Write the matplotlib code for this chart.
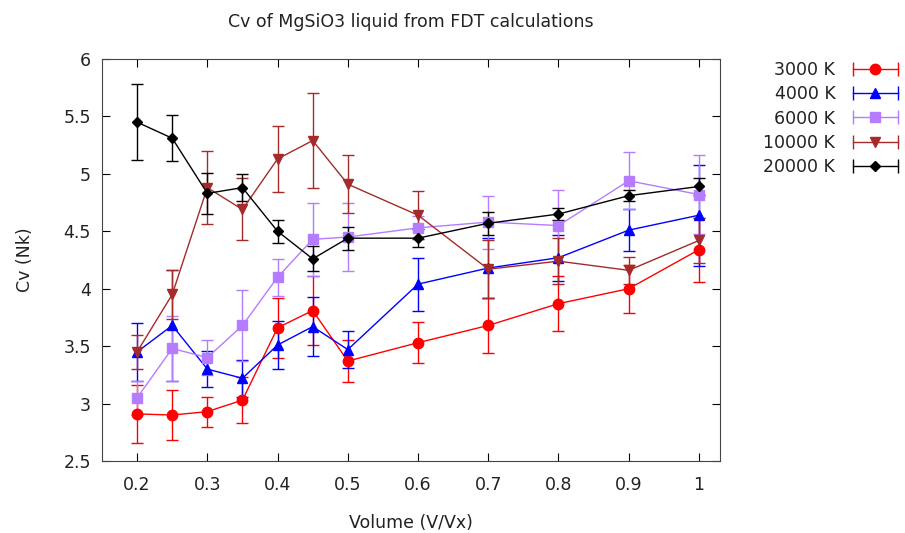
import numpy as np
import matplotlib
matplotlib.use("Agg")
import matplotlib.pyplot as plt
from matplotlib.lines import Line2D
from matplotlib.legend_handler import HandlerLine2D, HandlerTuple

volume = [0.2, 0.25, 0.3, 0.35, 0.4, 0.45, 0.5, 0.6, 0.7, 0.8, 0.9, 1.0]

cv_3000 = [2.91, 2.90, 2.93, 3.03, 3.66, 3.81, 3.37, 3.53, 3.68, 3.87, 4.00, 4.34]
err_3000 = [0.25, 0.22, 0.13, 0.20, 0.26, 0.30, 0.18, 0.18, 0.24, 0.24, 0.21, 0.28]

cv_4000 = [3.45, 3.68, 3.30, 3.22, 3.51, 3.67, 3.47, 4.04, 4.18, 4.27, 4.51, 4.64]
err_4000 = [0.25, 0.48, 0.16, 0.16, 0.21, 0.26, 0.16, 0.23, 0.26, 0.20, 0.18, 0.44]

cv_6000 = [3.05, 3.48, 3.40, 3.68, 4.10, 4.43, 4.45, 4.53, 4.58, 4.55, 4.94, 4.82]
err_6000 = [0.15, 0.28, 0.15, 0.31, 0.16, 0.32, 0.30, 0.10, 0.23, 0.31, 0.25, 0.34]

cv_10000 = [3.45, 3.95, 4.88, 4.69, 5.13, 5.29, 4.91, 4.64, 4.17, 4.24, 4.16, 4.42]
err_10000 = [0.15, 0.21, 0.32, 0.27, 0.29, 0.41, 0.25, 0.21, 0.25, 0.20, 0.12, 0.20]

cv_20000 = [5.45, 5.31, 4.83, 4.88, 4.50, 4.26, 4.44, 4.44, 4.57, 4.65, 4.81, 4.89]
err_20000 = [0.33, 0.20, 0.18, 0.12, 0.10, 0.11, 0.10, 0.08, 0.10, 0.05, 0.05, 0.07]

labels = ["3000 K", "4000 K", "6000 K", "10000 K", "20000 K"]

FS = 12.5
TXT = '#222222'

fig = plt.figure(figsize=(9.05, 5.33), dpi=100)
ax = fig.add_axes([0.1127, 0.1351, 0.6829, 0.7542])

series = [
    (cv_3000, err_3000, '#ff0000', 'o', 7.5),
    (cv_4000, err_4000, '#0000ff', '^', 7),
    (cv_6000, err_6000, '#b57cff', 's', 6.5),
    (cv_10000, err_10000, '#a52a2a', 'v', 7),
    (cv_20000, err_20000, '#000000', 'D', 5),
]

handles = []
hmap = {}
for (vals, errs, col, mk, ms), lab in zip(series, labels):
    ax.errorbar(volume, vals, yerr=errs, color=col, marker=mk, markersize=ms,
                linewidth=1.0, elinewidth=1.0, capsize=4.5, capthick=1.0)
    # legend sample: horizontal error bar with end caps, marker in the middle
    caps = Line2D([], [], color=col, linewidth=1.0, marker='|', markersize=10,
                  markeredgewidth=1.0)
    mark = Line2D([], [], color=col, linestyle='none', marker=mk, markersize=ms)
    hmap[caps] = HandlerLine2D(numpoints=2)
    hmap[mark] = HandlerLine2D(numpoints=1)
    handles.append((caps, mark))
hmap[tuple] = HandlerTuple(ndivide=1, pad=0)

ax.set_xlim(0.15, 1.03)
ax.set_ylim(2.5, 6)
ax.set_xticks([0.2, 0.3, 0.4, 0.5, 0.6, 0.7, 0.8, 0.9, 1.0])
ax.set_xticklabels(["0.2", "0.3", "0.4", "0.5", "0.6", "0.7", "0.8", "0.9", "1"])
ax.set_yticks([2.5, 3, 3.5, 4, 4.5, 5, 5.5, 6])
ax.set_yticklabels(["2.5", "3", "3.5", "4", "4.5", "5", "5.5", "6"])
ax.tick_params(direction='in', top=True, right=True, length=6, labelsize=FS,
               labelcolor=TXT)
ax.tick_params(axis='x', pad=11)
ax.tick_params(axis='y', pad=8)
for sp in ax.spines.values():
    sp.set_color('#444444')

ax.set_xlabel("Volume (V/Vx)", fontsize=FS, color=TXT, labelpad=14)
ax.set_ylabel("Cv (Nk)", fontsize=FS, color=TXT, labelpad=21)
ax.set_title("Cv of MgSiO3 liquid from FDT calculations", fontsize=FS,
             color=TXT, pad=23)

leg = fig.legend(handles, labels, handler_map=hmap, loc='upper right',
                 bbox_to_anchor=(903 / 905, 1 - 61 / 533), frameon=False,
                 markerfirst=False, fontsize=FS, handlelength=3.2,
                 labelspacing=0.36, handletextpad=0.7, borderpad=0,
                 borderaxespad=0)
for t in leg.get_texts():
    t.set_color(TXT)

fig.savefig("out.png", dpi=100)
